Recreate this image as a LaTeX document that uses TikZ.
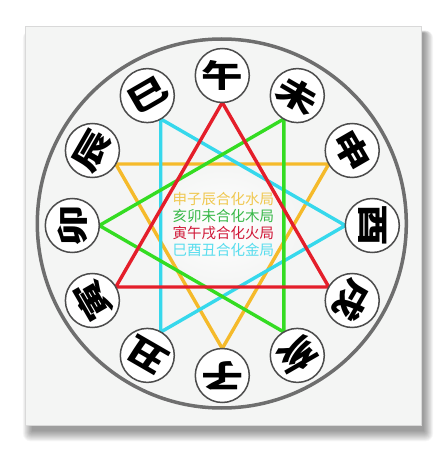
\documentclass[tikz,border=0pt]{standalone}
\usepackage{fontspec}
\newfontfamily\cjk{Noto Sans CJK SC}
\usetikzlibrary{calc}
\pgfdeclarelayer{back}
\pgfdeclarelayer{bg}
\pgfsetlayers{back,bg,main}
\definecolor{panel}{HTML}{F4F5F4}
\definecolor{ringgray}{HTML}{6E6E6E}
\definecolor{tred}{HTML}{E41E2A}
\definecolor{tyellow}{HTML}{F5BA2A}
\definecolor{tgreen}{HTML}{34DC22}
\definecolor{tcyan}{HTML}{36D8EC}
\definecolor{txyellow}{HTML}{F0C850}
\definecolor{txgreen}{HTML}{38B848}
\definecolor{txred}{HTML}{D01838}
\definecolor{txcyan}{HTML}{58DDEE}
\begin{document}
\begin{tikzpicture}[x=1pt,y=1pt,
  branch/.style={circle, draw=black!70, line width=1.5pt, fill=white, minimum size=54pt, inner sep=0pt, outer sep=0pt},
  glyph/.style={inner sep=0pt, font=\cjk\bfseries\fontsize{31.5}{31.5}\selectfont},
  tri/.style={line width=3.4pt, line join=round},
  caption/.style={inner sep=0pt, align=center, font=\cjk\fontsize{14.5}{17}\selectfont}]
\useasboundingbox (0,0) rectangle (447,451);
\begin{pgfonlayer}{back}
\fill[white] (0,0) rectangle (447,451);
% soft drop shadow of the panel
\foreach \d in {0,...,13}{
  \fill[black,opacity=0.03,rounded corners=\d*0.6] (32-\d*0.7,20-\d*0.8) rectangle (424+\d*0.7,418+\d*0.2);
}
\fill[panel] (25,26) rectangle (421,425);
\draw[black!15, line width=0.6pt] (25,26) rectangle (421,425);
% outer ring
\draw[ringgray, line width=3.5pt] (221.8,227.5) circle (184.5);
\end{pgfonlayer}
% the twelve branches
\foreach \a/\n/\c in {90/wu/午, 60/wei/未, 30/shen/申, 0/you/酉, -30/xu/戌, -60/hai/亥,
                      -90/zi/子, -120/chou/丑, -150/yin/寅, 180/mao/卯, 150/chen/辰, 120/si/巳}{
  \node[branch] (\n) at ($(222.3,225.5)+(\a:150pt)$) {};
  \pgfmathsetmacro\r{\a-90}
  \node[glyph, rotate=\r] (g\n) at (\n) {\scalebox{1.32}[1]{\c}};
}
\begin{pgfonlayer}{bg}
  \shade[inner color=white, outer color=panel] (223,226) ellipse (78 and 62);
  \draw[tri,tyellow] (shen.210) -- (zi.90) -- (chen.330) -- cycle;
  \draw[tri,tcyan] (si.300) -- (you.180) -- (chou.60) -- cycle;
  \draw[tri,tgreen] (wei.240) -- (mao.0) -- (hai.120) -- cycle;
  \draw[tri,tred] (wu.270) -- (yin.30) -- (xu.150) -- cycle;
\end{pgfonlayer}
\node[caption] (txt) at (223.3,226.7) {\textcolor{txyellow}{申子辰合化水局}\\
  \textcolor{txgreen}{亥卯未合化木局}\\
  \textcolor{txred}{寅午戌合化火局}\\
  \textcolor{txcyan}{巳酉丑合化金局}};
\end{tikzpicture}
\end{document}
